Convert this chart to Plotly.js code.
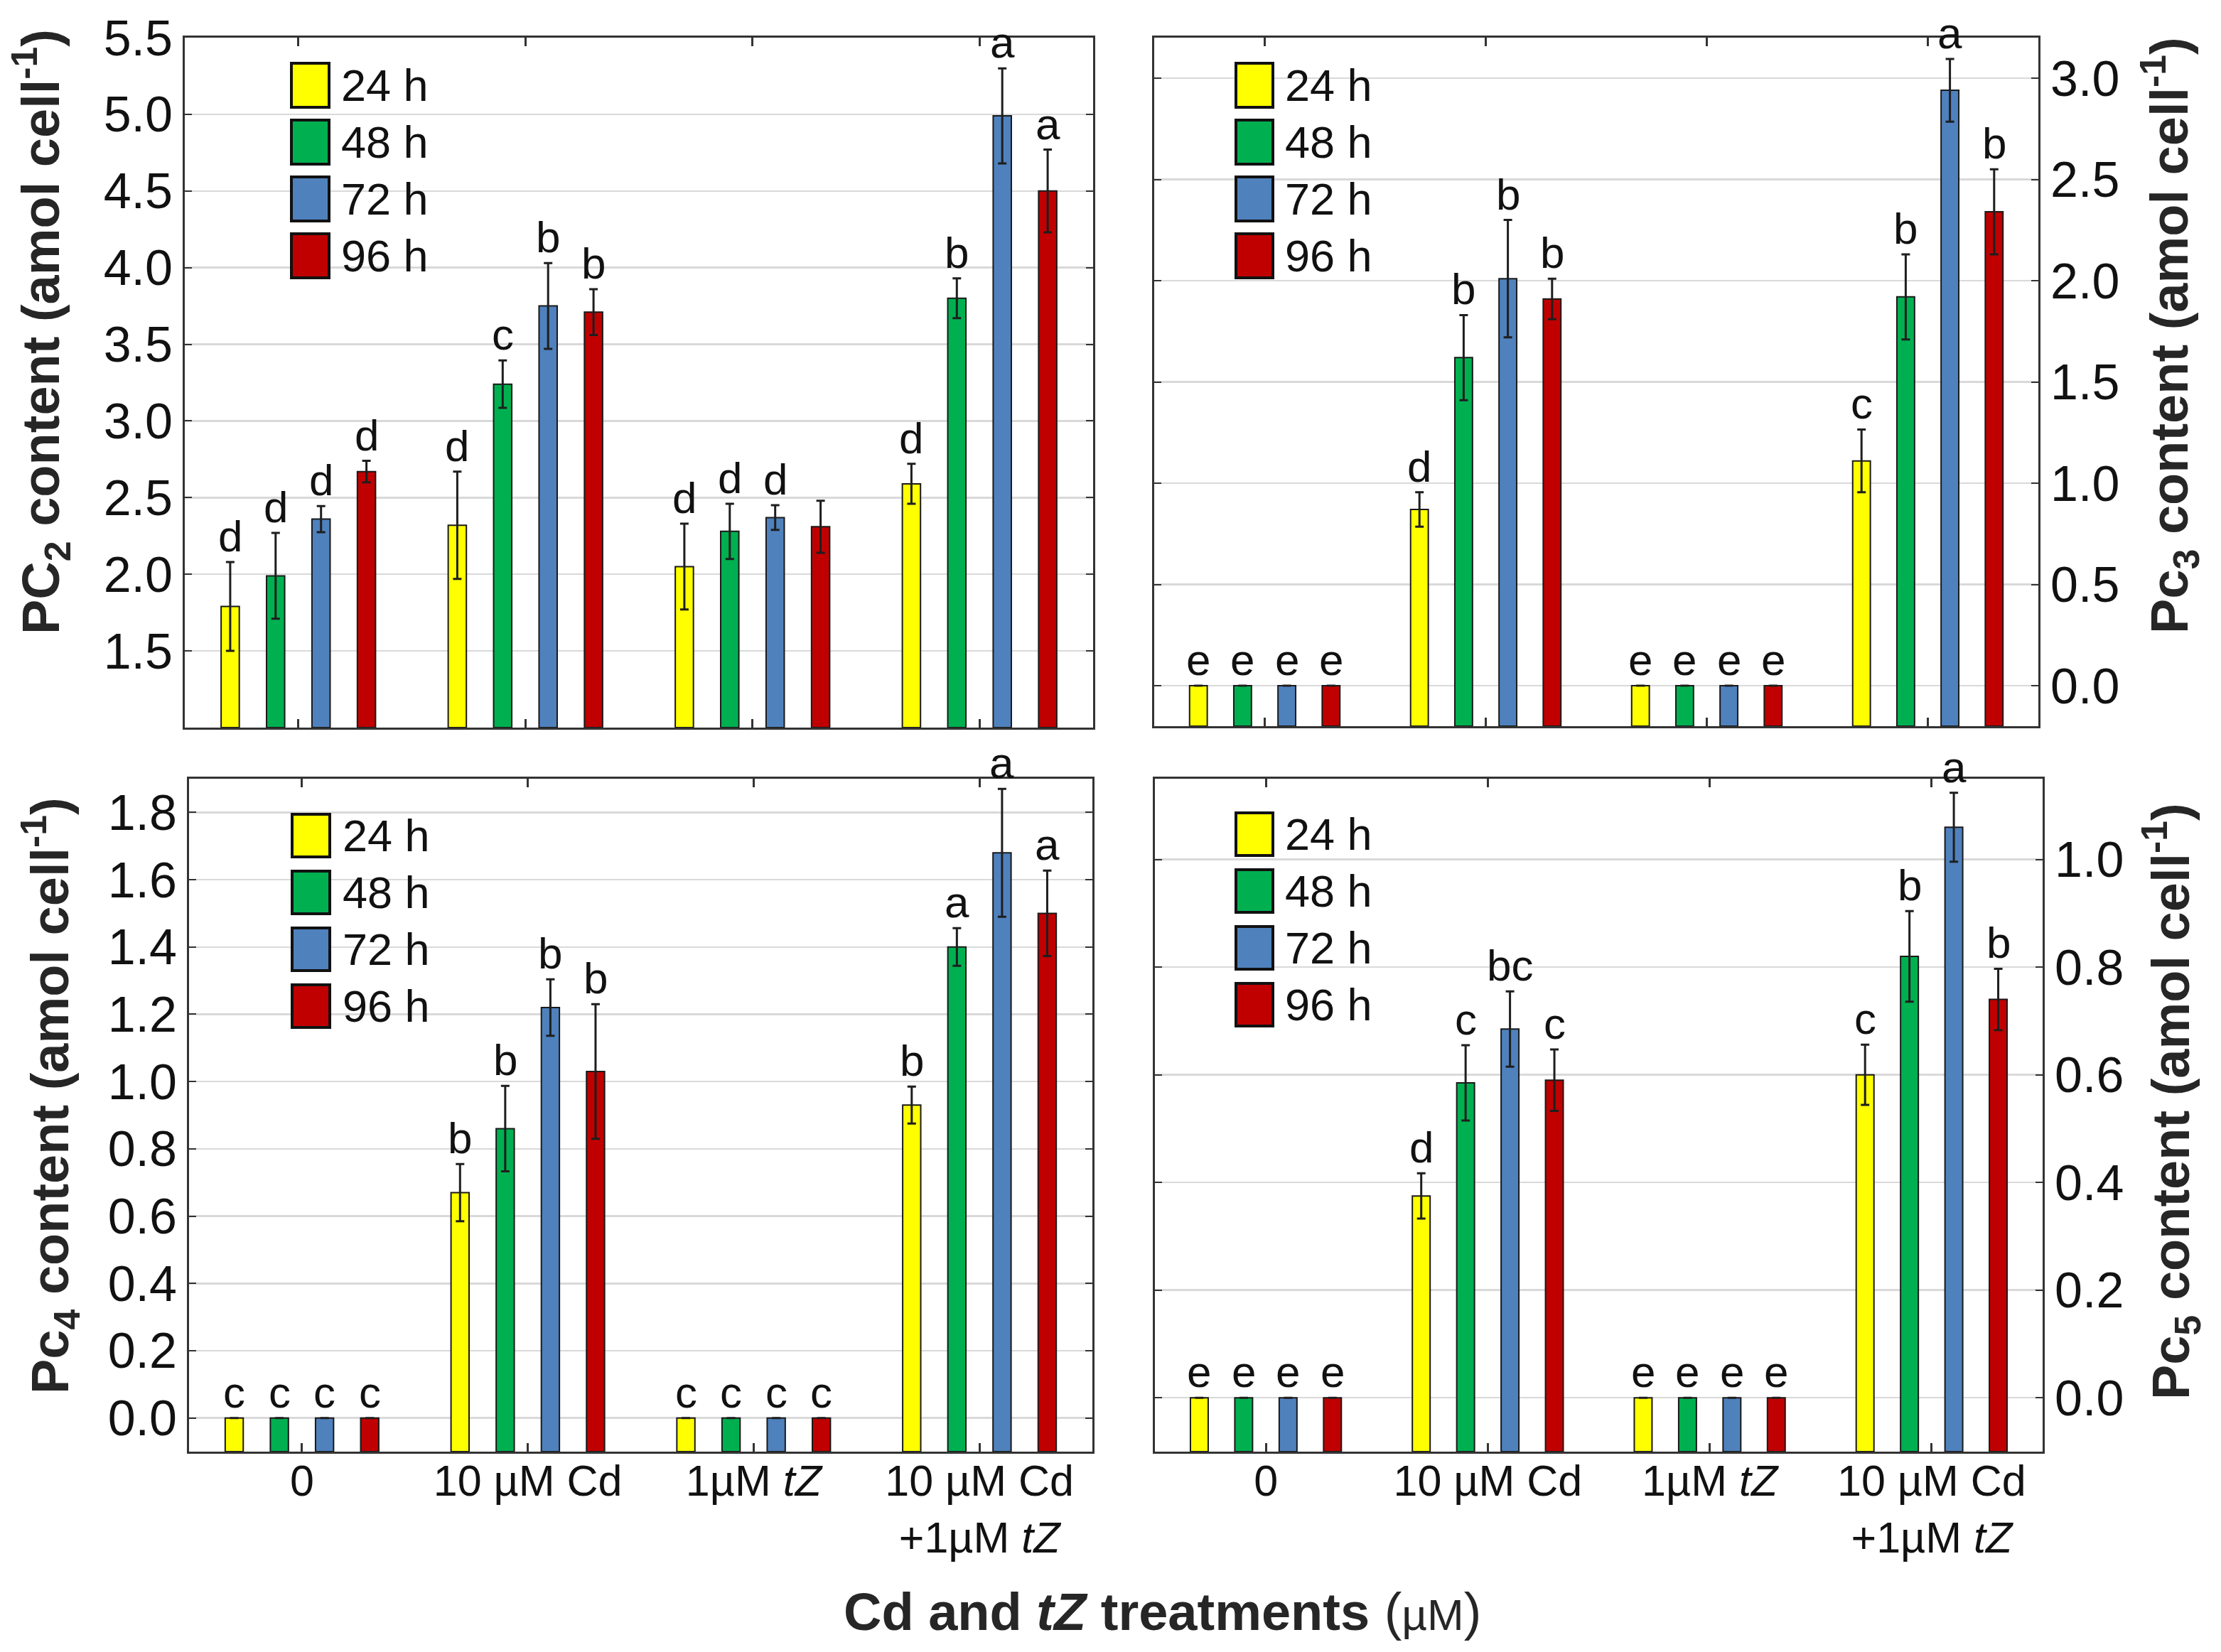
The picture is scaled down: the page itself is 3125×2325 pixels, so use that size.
<!DOCTYPE html>
<html>
<head>
<meta charset="utf-8">
<script src="https://cdn.plot.ly/plotly-3.0.1.min.js"></script>
<style>html,body{margin:0;padding:0;background:#fff;}#chart{width:3125px;height:2325px;}</style>
</head>
<body>
<div id="chart"></div>
<script>
// ---------------- data ----------------
const CATEGORIES = ['0', '10 µM Cd', '1µM <i>tZ</i>', '10 µM Cd<br>+1µM <i>tZ</i>'];
const TIMES = ['24 h', '48 h', '72 h', '96 h'];
const COLORS = ['#ffff00', '#00b050', '#4f81bd', '#c00000'];

// rows = time (24,48,72,96 h); columns = treatment
const PC2_MEAN = [
  [1.79, 2.32, 2.05, 2.59],
  [1.99, 3.24, 2.28, 3.80],
  [2.36, 3.75, 2.37, 4.99],
  [2.67, 3.71, 2.31, 4.50]
];
const PC2_SD = [
  [0.29, 0.35, 0.28, 0.13],
  [0.28, 0.155, 0.18, 0.13],
  [0.085, 0.28, 0.08, 0.31],
  [0.07, 0.15, 0.17, 0.27]
];
const PC2_LETTERS = [
  ['d', 'd', 'd', 'd'],
  ['d', 'c', 'd', 'b'],
  ['d', 'b', 'd', 'a'],
  ['d', 'b', '', 'a']
];

const PC3_MEAN = [
  [0, 0.87, 0, 1.11],
  [0, 1.62, 0, 1.92],
  [0, 2.01, 0, 2.94],
  [0, 1.91, 0, 2.34]
];
const PC3_SD = [
  [0, 0.085, 0, 0.155],
  [0, 0.21, 0, 0.21],
  [0, 0.29, 0, 0.155],
  [0, 0.10, 0, 0.21]
];
const PC3_LETTERS = [
  ['e', 'd', 'e', 'c'],
  ['e', 'b', 'e', 'b'],
  ['e', 'b', 'e', 'a'],
  ['e', 'b', 'e', 'b']
];

const PC4_MEAN = [
  [0, 0.67, 0, 0.93],
  [0, 0.86, 0, 1.40],
  [0, 1.22, 0, 1.68],
  [0, 1.03, 0, 1.50]
];
const PC4_SD = [
  [0, 0.085, 0, 0.055],
  [0, 0.127, 0, 0.056],
  [0, 0.084, 0, 0.19],
  [0, 0.20, 0, 0.127]
];
const PC4_LETTERS = [
  ['c', 'b', 'c', 'b'],
  ['c', 'b', 'c', 'a'],
  ['c', 'b', 'c', 'a'],
  ['c', 'b', 'c', 'a']
];

const PC5_MEAN = [
  [0, 0.375, 0, 0.60],
  [0, 0.585, 0, 0.82],
  [0, 0.685, 0, 1.06],
  [0, 0.59, 0, 0.74]
];
const PC5_SD = [
  [0, 0.042, 0, 0.056],
  [0, 0.07, 0, 0.084],
  [0, 0.07, 0, 0.064],
  [0, 0.057, 0, 0.057]
];
const PC5_LETTERS = [
  ['e', 'd', 'e', 'c'],
  ['e', 'c', 'e', 'b'],
  ['e', 'bc', 'e', 'a'],
  ['e', 'c', 'e', 'b']
];

const PC2_TICKS = [1.5, 2.0, 2.5, 3.0, 3.5, 4.0, 4.5, 5.0, 5.5];
const PC3_TICKS = [0, 0.5, 1.0, 1.5, 2.0, 2.5, 3.0];
const PC4_TICKS = [0, 0.2, 0.4, 0.6, 0.8, 1.0, 1.2, 1.4, 1.6, 1.8];
const PC5_TICKS = [0, 0.2, 0.4, 0.6, 0.8, 1.0];

// ---------------- layout / styling ----------------
const W = 3125, H = 2325;
const FONT = 'Liberation Sans, Arial, Helvetica, sans-serif';
const px = v => v / W;
const py = v => 1 - v / H;

const PANELS = [
  {mean: PC2_MEAN, sd: PC2_SD, letters: PC2_LETTERS, ticks: PC2_TICKS,
   xpx: [260, 1538], ypx: [53, 1024], range: [1.0, 5.5], side: 'left', showx: false,
   title: 'PC<sub>2</sub> content (amol cell<sup>-1</sup>)', tx: 57, ty: 467,
   leg: {x0: 410, x1: 463, y0: 89, h: 62, step: 80, tx: 478}},
  {mean: PC3_MEAN, sd: PC3_SD, letters: PC3_LETTERS, ticks: PC3_TICKS,
   xpx: [1624, 2868], ypx: [53, 1022], range: [-0.2, 3.2], side: 'right', showx: false,
   title: 'Pc<sub>3</sub> content (amol cell<sup>-1</sup>)', tx: 3052, ty: 472,
   leg: {x0: 1739, x1: 1791, y0: 89, h: 62, step: 80, tx: 1806}},
  {mean: PC4_MEAN, sd: PC4_SD, letters: PC4_LETTERS, ticks: PC4_TICKS,
   xpx: [266, 1537], ypx: [1096, 2043], range: [-0.1, 1.9], side: 'left', showx: true,
   title: 'Pc<sub>4</sub> content (amol cell<sup>-1</sup>)', tx: 70, ty: 1542,
   leg: {x0: 411, x1: 464, y0: 1146, h: 60, step: 80, tx: 480}},
  {mean: PC5_MEAN, sd: PC5_SD, letters: PC5_LETTERS, ticks: PC5_TICKS,
   xpx: [1625, 2874], ypx: [1096, 2043], range: [-0.1, 1.15], side: 'right', showx: true,
   title: 'Pc<sub>5</sub> content (amol cell<sup>-1</sup>)', tx: 3054, ty: 1550,
   leg: {x0: 1739, x1: 1791, y0: 1144, h: 60, step: 80, tx: 1806}}
];

const traces = [];
const annotations = [];
const shapes = [];
const layout = {
  width: W, height: H,
  margin: {l: 0, r: 0, t: 0, b: 0},
  paper_bgcolor: '#ffffff', plot_bgcolor: '#ffffff',
  font: {family: FONT, color: '#111111'},
  barmode: 'group', bargap: 0.2, bargroupgap: 0.6,
  showlegend: false
};

PANELS.forEach((p, pi) => {
  const n = pi === 0 ? '' : String(pi + 1);
  const xa = 'x' + n, ya = 'y' + n;
  const base = p.range[0];
  for (let j = 0; j < TIMES.length; j++) {
    traces.push({
      type: 'bar', name: TIMES[j], xaxis: xa, yaxis: ya,
      x: [0, 1, 2, 3],
      y: p.mean[j].map(v => v - base),
      base: base,
      marker: {color: COLORS[j], line: {color: '#1a1a1a', width: 2}},
      error_y: {type: 'data', visible: true, array: p.sd[j].map(v => v > 0 ? v : null),
                color: '#1e1e1e', thickness: 3, width: 6},
      hoverinfo: 'skip', showlegend: false
    });
    for (let i = 0; i < CATEGORIES.length; i++) {
      const lab = p.letters[j][i];
      if (!lab) continue;
      annotations.push({
        xref: xa, yref: ya, x: i + (j - 1.5) * 0.2, y: p.mean[j][i] + p.sd[j][i],
        text: lab, showarrow: false, xanchor: 'center', yanchor: 'bottom', yshift: 0,
        font: {family: FONT, size: 62, color: '#111111'}
      });
    }
    // legend swatch + label
    const ly0 = p.leg.y0 + j * p.leg.step;
    shapes.push({type: 'rect', xref: 'paper', yref: 'paper',
      x0: px(p.leg.x0), x1: px(p.leg.x1), y0: py(ly0), y1: py(ly0 + p.leg.h),
      fillcolor: COLORS[j], line: {color: '#111111', width: 4}});
    annotations.push({xref: 'paper', yref: 'paper', x: px(p.leg.tx), y: py(ly0 + p.leg.h / 2),
      text: TIMES[j], showarrow: false, xanchor: 'left', yanchor: 'middle',
      font: {family: FONT, size: 63, color: '#111111'}});
  }
  layout['xaxis' + n] = {
    domain: [px(p.xpx[0]), px(p.xpx[1])], anchor: ya,
    range: [-0.5, 3.5], tickmode: 'array', tickvals: [0, 1, 2, 3], ticktext: CATEGORIES,
    showticklabels: p.showx, tickfont: {family: FONT, size: 61, color: '#111111'},
    ticklabelstandoff: -14,
    ticks: 'inside', ticklen: 12, tickwidth: 3, tickcolor: '#333333',
    showline: true, linecolor: '#333333', linewidth: 3, mirror: 'ticks',
    showgrid: false, zeroline: false, fixedrange: true
  };
  layout['yaxis' + n] = {
    domain: [py(p.ypx[1]), py(p.ypx[0])], anchor: xa, side: p.side,
    range: p.range, tickmode: 'array', tickvals: p.ticks, tickformat: '.1f',
    tickfont: {family: FONT, size: 70, color: '#111111'},
    ticks: 'inside', ticklen: 10, tickwidth: 2, tickcolor: '#333333',
    showline: true, linecolor: '#333333', linewidth: 3, mirror: 'ticks',
    showgrid: true, gridcolor: '#d9d9d9', gridwidth: 2.5, zeroline: false, fixedrange: true
  };
  annotations.push({xref: 'paper', yref: 'paper', x: px(p.tx), y: py(p.ty),
    text: '<b>' + p.title + '</b>', textangle: -90, showarrow: false,
    xanchor: 'center', yanchor: 'middle',
    font: {family: FONT, size: 74, color: '#262626'}});
});

annotations.push({xref: 'paper', yref: 'paper', x: px(1635), y: py(2268),
  text: '<b>Cd and <i>tZ</i> treatments </b>(<span style="font-size:62px">µM</span>)',
  showarrow: false, xanchor: 'center', yanchor: 'middle',
  font: {family: FONT, size: 74, color: '#262626'}});

layout.annotations = annotations;
layout.shapes = shapes;

Plotly.newPlot('chart', traces, layout, {staticPlot: true, displayModeBar: false});
</script>
</body>
</html>
